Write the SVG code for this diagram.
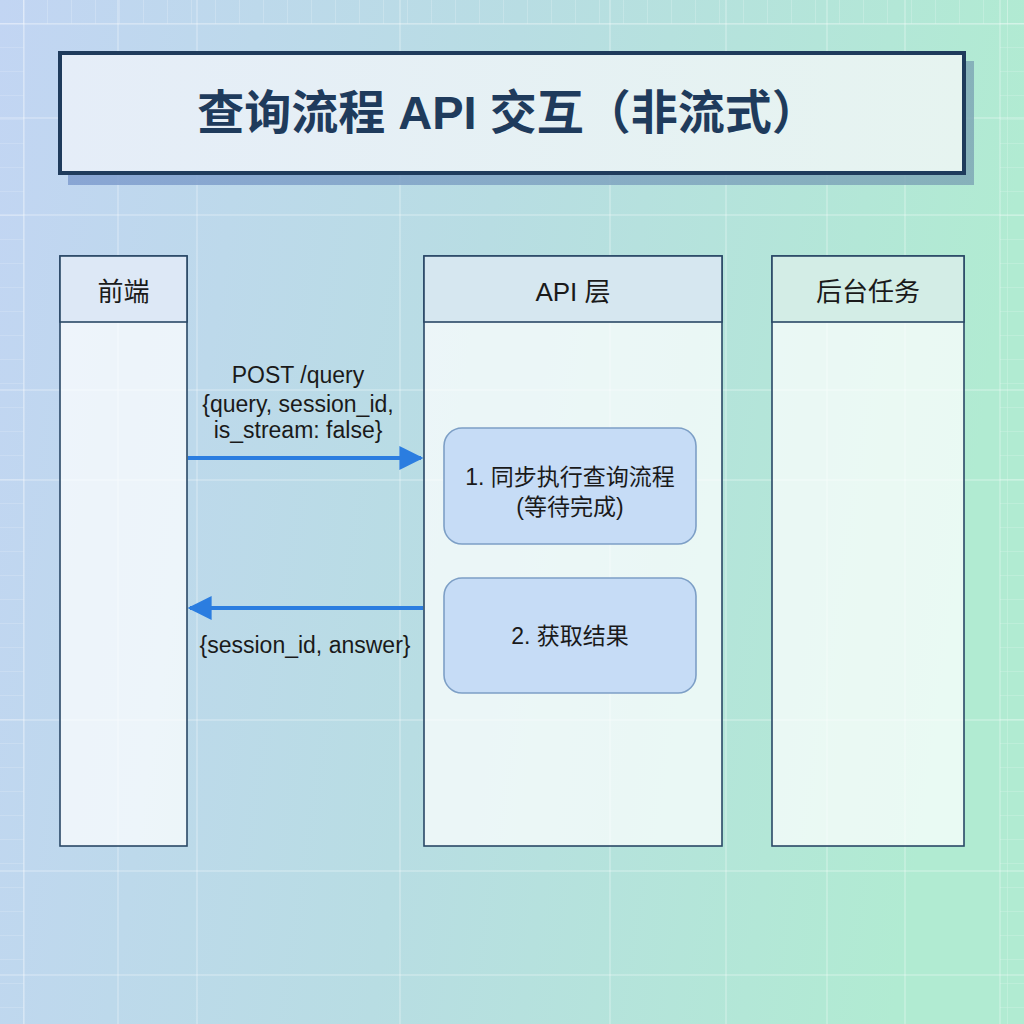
<svg xmlns="http://www.w3.org/2000/svg" width="1024" height="1024" viewBox="0 0 1024 1024">
  <defs>
    <linearGradient id="bg" x1="0" y1="0" x2="1" y2="0.15">
      <stop offset="0" stop-color="#c2d5f3"/>
      <stop offset="0.5" stop-color="#b8dde3"/>
      <stop offset="1" stop-color="#b1ebd2"/>
    </linearGradient>
    <linearGradient id="titleFill" x1="0" y1="0" x2="1" y2="0">
      <stop offset="0" stop-color="#e5edf8"/>
      <stop offset="1" stop-color="#e6f4f0"/>
    </linearGradient>
    <linearGradient id="shadowFill" x1="0" y1="0" x2="1" y2="0">
      <stop offset="0" stop-color="#7f9dcf"/>
      <stop offset="1" stop-color="#7fa8b6"/>
    </linearGradient>
    <pattern id="fine" width="24" height="24" patternUnits="userSpaceOnUse">
      <path d="M24 0V24M0 24H24" fill="none" stroke="#ffffff" stroke-opacity="0.3" stroke-width="1.2"/>
    </pattern>
    <marker id="ah" viewBox="0 0 20 20" refX="18" refY="10" markerWidth="6" markerHeight="6" markerUnits="strokeWidth" orient="auto-start-reverse">
      <path d="M0 0L20 10L0 20Z" fill="#2b7de0"/>
    </marker>
    <style>
      .lane { stroke: #2a4866; stroke-width: 1.6; }
      .body { fill: #ffffff; fill-opacity: 0.72; }
      .hdrtxt { font-family: "Liberation Sans", "Noto Sans CJK SC", sans-serif; font-size: 26px; fill: #1a1a1a; text-anchor: middle; }
      .lbl { font-family: "Liberation Sans", "Noto Sans CJK SC", sans-serif; font-size: 23px; fill: #1a1a1a; text-anchor: middle; }
      .step { fill: #c6dcf6; stroke: #7d9fc6; stroke-width: 1.6; }
      .steptxt { font-family: "Liberation Sans", "Noto Sans CJK SC", sans-serif; font-size: 23px; fill: #1a1a1a; text-anchor: middle; }
      .conn { stroke: #2b7de0; stroke-width: 4; fill: none; }
      .grid { stroke: #ffffff; stroke-opacity: 0.3; stroke-width: 1.5; }
    </style>
  </defs>

  <!-- background -->
  <rect width="1024" height="1024" fill="url(#bg)"/>
  <rect x="0" y="0" width="1024" height="24" fill="url(#fine)"/>
  <rect x="0" y="0" width="24" height="1024" fill="url(#fine)"/>
  <rect x="1000" y="0" width="24" height="1024" fill="url(#fine)"/>
  <g class="grid">
    <line x1="24" y1="0" x2="24" y2="1024"/>
    <line x1="118" y1="0" x2="118" y2="1024"/>
    <line x1="197" y1="0" x2="197" y2="1024"/>
    <line x1="400" y1="0" x2="400" y2="1024"/>
    <line x1="610" y1="0" x2="610" y2="1024"/>
    <line x1="726" y1="0" x2="726" y2="1024"/>
    <line x1="827" y1="0" x2="827" y2="1024"/>
    <line x1="905" y1="0" x2="905" y2="1024"/>
    <line x1="1000" y1="0" x2="1000" y2="1024"/>
    <line x1="0" y1="24" x2="1024" y2="24"/>
    <line x1="0" y1="118" x2="1024" y2="118"/>
    <line x1="0" y1="215" x2="1024" y2="215"/>
    <line x1="0" y1="390" x2="1024" y2="390"/>
    <line x1="0" y1="480" x2="1024" y2="480"/>
    <line x1="0" y1="720" x2="1024" y2="720"/>
    <line x1="0" y1="871" x2="1024" y2="871"/>
    <line x1="0" y1="975" x2="1024" y2="975"/>
  </g>

  <!-- title -->
  <g id="title">
    <rect x="68" y="61" width="906" height="124" fill="url(#shadowFill)" opacity="0.85"/>
    <rect x="60" y="53" width="904" height="120" fill="url(#titleFill)" stroke="#1f3b5c" stroke-width="4"/>
    <text x="508" y="129" font-family="Liberation Sans, Noto Sans CJK SC, sans-serif" font-size="47" font-weight="bold" fill="#1f3b5c" text-anchor="middle">查询流程 API 交互（非流式）</text>
  </g>

  <!-- lanes -->
  <g id="lane-frontend">
    <rect class="lane body" x="60" y="256" width="127" height="590"/>
    <rect class="lane" x="60" y="256" width="127" height="66" fill="#dde8f6"/>
    <text class="hdrtxt" x="123.5" y="301">前端</text>
  </g>
  <g id="lane-api">
    <rect class="lane body" x="424" y="256" width="298" height="590"/>
    <rect class="lane" x="424" y="256" width="298" height="66" fill="#d6e7f0"/>
    <text class="hdrtxt" x="573" y="301">API 层</text>
  </g>
  <g id="lane-backend">
    <rect class="lane body" x="772" y="256" width="192" height="590"/>
    <rect class="lane" x="772" y="256" width="192" height="66" fill="#d3ede6"/>
    <text class="hdrtxt" x="868" y="301">后台任务</text>
  </g>

  <!-- steps -->
  <g id="step1">
    <rect class="step" x="444" y="428" width="252" height="116" rx="18"/>
    <text class="steptxt" x="570" y="485">1. 同步执行查询流程</text>
    <text class="steptxt" x="570" y="515">(等待完成)</text>
  </g>
  <g id="step2">
    <rect class="step" x="444" y="578" width="252" height="115" rx="18"/>
    <text class="steptxt" x="570" y="644">2. 获取结果</text>
  </g>

  <!-- connectors -->
  <g id="connectors">
    <line class="conn" x1="188" y1="458" x2="421" y2="458" marker-end="url(#ah)"/>
    <line class="conn" x1="423" y1="608" x2="190" y2="608" marker-end="url(#ah)"/>
    <text class="lbl" x="298" y="383">POST /query</text>
    <text class="lbl" x="298" y="412">{query, session_id,</text>
    <text class="lbl" x="298" y="438">is_stream: false}</text>
    <text class="lbl" x="305" y="653">{session_id, answer}</text>
  </g>
</svg>
